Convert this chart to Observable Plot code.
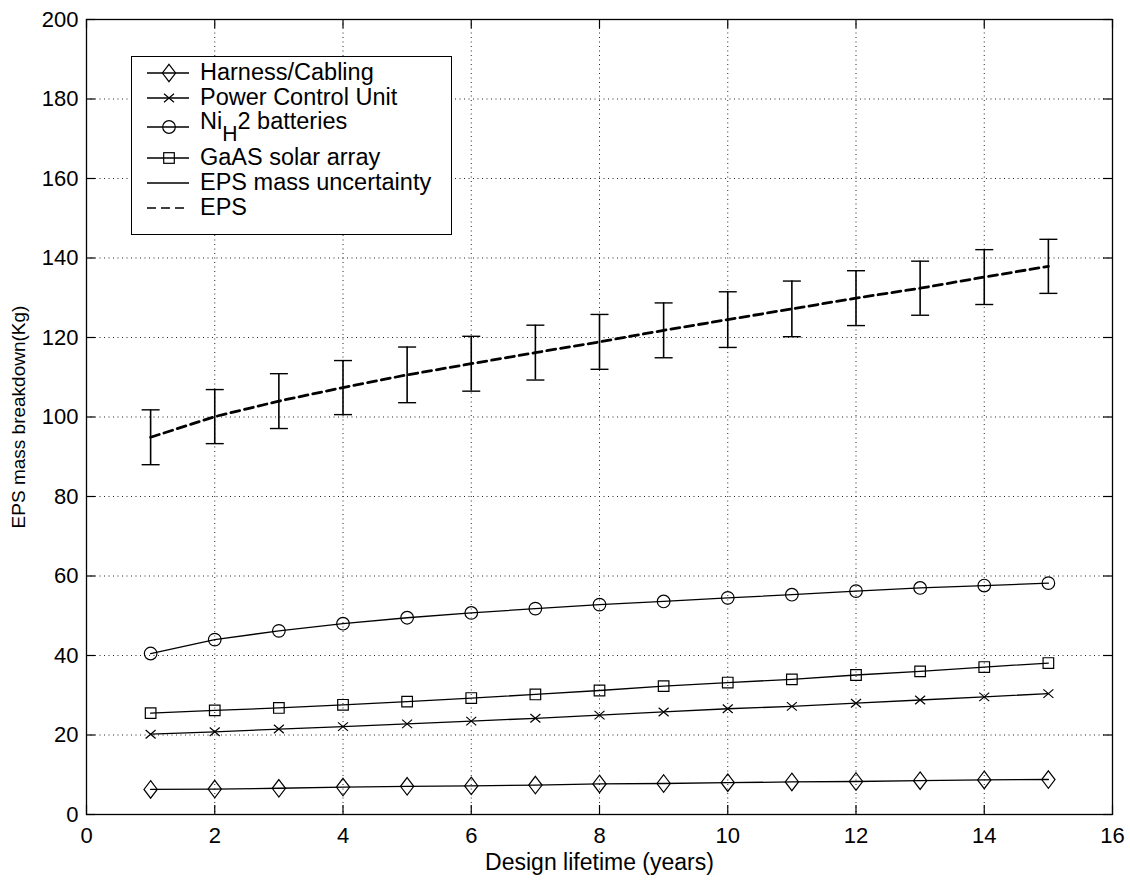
<!DOCTYPE html>
<html>
<head>
<meta charset="utf-8">
<script src="https://cdn.jsdelivr.net/npm/d3@7"></script>
<script src="https://cdn.jsdelivr.net/npm/@observablehq/plot@0.6"></script>
<style>
  body { margin: 0; background: #fff; }
  #wrap { position: relative; width: 1130px; height: 880px; font-family: "Liberation Sans", Arial, sans-serif; color: #000; }
  #legend { position: absolute; left: 131px; top: 56px; width: 321px; height: 179px; border: 1.3px solid #000; background: #fff; box-sizing: border-box; }
  .row { position: absolute; left: 0; height: 24px; width: 318px; font-size: 23.5px; }
  .row svg { position: absolute; left: 12px; top: 0; }
  .row .t { position: absolute; left: 68px; top: 50%; transform: translateY(-50%); white-space: nowrap; line-height: 1; }
  .row .t sub { font-size: 0.9em; vertical-align: -0.55em; line-height: 0; }
</style>
</head>
<body>
<div id="wrap"></div>
<script>
// ---- data ----
const years   = [1, 2, 3, 4, 5, 6, 7, 8, 9, 10, 11, 12, 13, 14, 15];
const harness = [6.3, 6.4, 6.6, 6.9, 7.1, 7.2, 7.4, 7.7, 7.8, 8.0, 8.2, 8.3, 8.5, 8.7, 8.8];
const pcu     = [20.2, 20.8, 21.5, 22.1, 22.8, 23.5, 24.2, 25.0, 25.8, 26.6, 27.2, 28.0, 28.8, 29.6, 30.4];
const nih2    = [40.5, 44.0, 46.2, 48.0, 49.5, 50.7, 51.8, 52.8, 53.6, 54.5, 55.3, 56.2, 57.0, 57.6, 58.2];
const gaas    = [25.5, 26.2, 26.8, 27.6, 28.4, 29.3, 30.2, 31.2, 32.3, 33.2, 34.0, 35.1, 36.0, 37.1, 38.1];
const eps     = [94.9, 100.1, 104.0, 107.4, 110.6, 113.4, 116.2, 118.9, 121.8, 124.5, 127.2, 129.9, 132.4, 135.2, 137.9];
const epsErr  = [6.9, 6.8, 6.9, 6.8, 7.0, 6.9, 6.9, 6.9, 6.9, 7.0, 7.0, 6.9, 6.8, 6.9, 6.8];
const xTicks  = [0, 2, 4, 6, 8, 10, 12, 14, 16];
const yTicks  = [0, 20, 40, 60, 80, 100, 120, 140, 160, 180, 200];
const seriesNames = ["Harness/Cabling", "Power Control Unit", "NiH2 batteries", "GaAS solar array", "EPS mass uncertainty", "EPS"];
const xLabel = "Design lifetime (years)";
const yLabel = "EPS mass breakdown(Kg)";

const rows = years.map((yr, i) => ({
  year: yr, harness: harness[i], pcu: pcu[i], nih2: nih2[i], gaas: gaas[i],
  eps: eps[i], lo: eps[i] - epsErr[i], hi: eps[i] + epsErr[i]
}));

// ---- MATLAB-like marker symbols ----
const rad = size => Math.sqrt(size / Math.PI);
const diamondSym = { draw(c, s) { const r = rad(s); c.moveTo(0, -1.25 * r); c.lineTo(0.95 * r, 0); c.lineTo(0, 1.25 * r); c.lineTo(-0.95 * r, 0); c.closePath(); } };
const timesSym   = { draw(c, s) { const r = rad(s); c.moveTo(-r, -0.85 * r); c.lineTo(r, 0.85 * r); c.moveTo(-r, 0.85 * r); c.lineTo(r, -0.85 * r); } };
const squareSym  = { draw(c, s) { const r = rad(s); c.moveTo(-r, -r); c.lineTo(r, -r); c.lineTo(r, r); c.lineTo(-r, r); c.closePath(); } };
const capSym     = { draw(c, s) { const r = rad(s); c.moveTo(-r, 0); c.lineTo(r, 0); } };

const W = 1130, H = 880, mL = 86, mR = 18, mT = 19, mB = 66;
const innerW = W - mL - mR, innerH = H - mT - mB;
const tickLen = 9;

const series = [
  { key: "harness", sym: diamondSym, r: 7 },
  { key: "pcu", sym: timesSym, r: 5 },
  { key: "nih2", sym: "circle", r: 6.3 },
  { key: "gaas", sym: squareSym, r: 5.3 }
];

const marks = [
  Plot.gridX(xTicks.slice(1, -1), { stroke: "#000", strokeOpacity: 0.85, strokeWidth: 1, strokeDasharray: "1,3.5" }),
  Plot.gridY(yTicks.slice(1, -1), { stroke: "#000", strokeOpacity: 0.85, strokeWidth: 1, strokeDasharray: "1,3.5" }),
  // inward ticks on all four sides
  Plot.tickX(xTicks, { x: d => d, insetTop: innerH - tickLen, stroke: "#000", strokeWidth: 1.2 }),
  Plot.tickX(xTicks, { x: d => d, insetBottom: innerH - tickLen, stroke: "#000", strokeWidth: 1.2 }),
  Plot.tickY(yTicks, { y: d => d, insetRight: innerW - tickLen, stroke: "#000", strokeWidth: 1.2 }),
  Plot.tickY(yTicks, { y: d => d, insetLeft: innerW - tickLen, stroke: "#000", strokeWidth: 1.2 }),
  Plot.axisX(xTicks, { tickSize: 0, tickPadding: 13, fontSize: 22, label: null }),
  Plot.axisY(yTicks, { tickSize: 0, tickPadding: 8, fontSize: 22, label: null }),
  Plot.frame({ stroke: "#000", strokeWidth: 1.3 }),
];

for (const s of series) {
  marks.push(Plot.line(rows, { x: "year", y: s.key, stroke: "#000", strokeWidth: 1.3 }));
  marks.push(Plot.dot(rows, { x: "year", y: s.key, symbol: s.sym, r: s.r, fill: "none", stroke: "#000", strokeWidth: 1.2 }));
}

// error bars (EPS mass uncertainty)
marks.push(Plot.ruleX(rows, { x: "year", y1: "lo", y2: "hi", stroke: "#000", strokeWidth: 1.6 }));
marks.push(Plot.dot(rows, { x: "year", y: "hi", symbol: capSym, r: 9, fill: "none", stroke: "#000", strokeWidth: 1.4 }));
marks.push(Plot.dot(rows, { x: "year", y: "lo", symbol: capSym, r: 9, fill: "none", stroke: "#000", strokeWidth: 1.4 }));
// EPS dashed
marks.push(Plot.line(rows, { x: "year", y: "eps", stroke: "#000", strokeWidth: 2.8, strokeDasharray: "9,5" }));

// axis titles
marks.push(Plot.text([xLabel], { text: d => d, frameAnchor: "bottom", dy: 48, fontSize: 23, textAnchor: "middle", lineAnchor: "middle" }));
marks.push(Plot.text([yLabel], { text: d => d, frameAnchor: "left", dx: -68, rotate: -90, fontSize: 19, textAnchor: "middle", lineAnchor: "middle" }));

const chart = Plot.plot({
  width: W, height: H,
  marginLeft: mL, marginRight: mR, marginTop: mT, marginBottom: mB,
  x: { domain: [0, 16] },
  y: { domain: [0, 200] },
  style: { fontFamily: "'Liberation Sans', Arial, sans-serif", color: "#000", background: "#fff" },
  marks
});

const wrap = document.getElementById("wrap");
wrap.appendChild(chart);

// ---- legend (MATLAB style, inside the axes) ----
const legend = document.createElement("div");
legend.id = "legend";
const rowCenters = [16, 41, 70, 101, 126, 151];
const legSym = [
  `<polygon points="25,3.3 31.6,12 25,20.7 18.4,12" fill="none" stroke="#000" stroke-width="1.2"/>`,
  `<path d="M20,7.7L30,16.3M20,16.3L30,7.7" stroke="#000" stroke-width="1.2"/>`,
  `<circle cx="25" cy="12" r="6.3" fill="none" stroke="#000" stroke-width="1.2"/>`,
  `<rect x="19.7" y="6.7" width="10.6" height="10.6" fill="none" stroke="#000" stroke-width="1.2"/>`,
  ``,
  ``
];
const legLine = (i) => i === 5
  ? `<line x1="3" x2="45" y1="12" y2="12" stroke="#000" stroke-width="1.6" stroke-dasharray="9,5"/>`
  : `<line x1="3" x2="45" y1="12" y2="12" stroke="#000" stroke-width="1.3"/>`;
seriesNames.forEach((name, i) => {
  const r = document.createElement("div");
  r.className = "row";
  r.style.top = (rowCenters[i] - 12) + "px";
  const label = name === "NiH2 batteries" ? `Ni<sub>H</sub>2 batteries` : name;
  r.innerHTML = `<svg width="50" height="24">${legLine(i)}${legSym[i]}</svg><span class="t">${label}</span>`;
  if (i === 2) r.querySelector(".t").style.transform = "translateY(-72%)";
  legend.appendChild(r);
});
wrap.appendChild(legend);
</script>
</body>
</html>
